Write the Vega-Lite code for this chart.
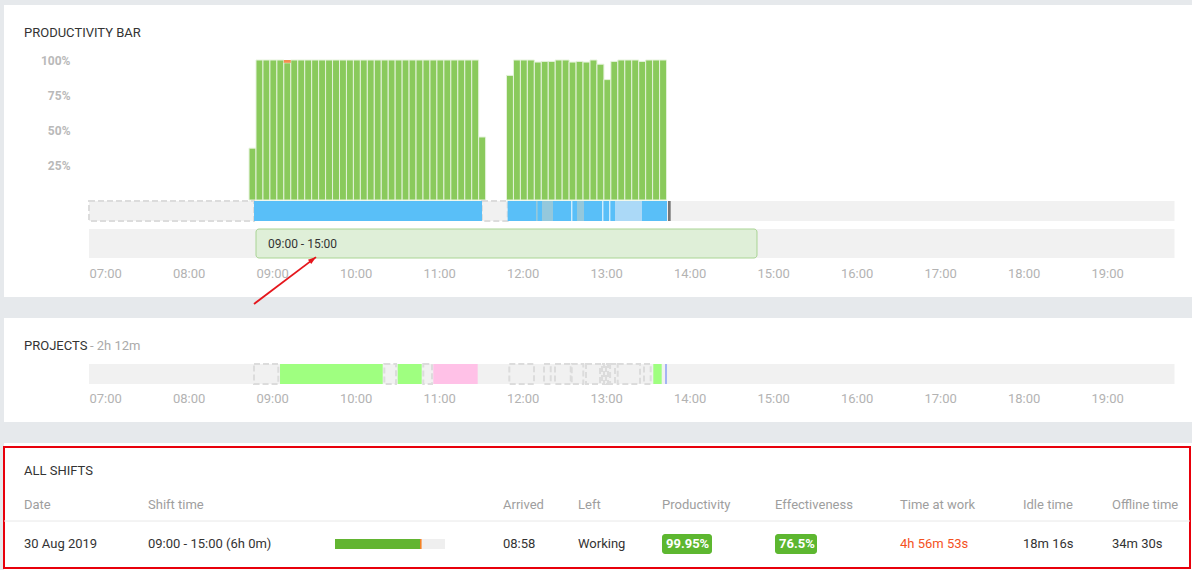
{
  "$schema": "https://vega.github.io/schema/vega-lite/v6.json",
  "background": "#ffffff",
  "padding": 0,
  "autosize": {"type": "pad"},
  "config": {
    "font": "Roboto",
    "view": {"stroke": null},
    "text": {"font": "Roboto"},
    "axis": {"labelFont": "Roboto"}
  },
  "datasets": {
    "lanebg": [{"from": "2019-08-30T07:00:00", "to": "2019-08-30T20:00:00"}],
    "bars": [
      {"start": "2019-08-30T08:55", "end": "2019-08-30T09:00", "productive": 37},
      {"start": "2019-08-30T09:00", "end": "2019-08-30T09:05", "productive": 100},
      {"start": "2019-08-30T09:05", "end": "2019-08-30T09:10", "productive": 100},
      {"start": "2019-08-30T09:10", "end": "2019-08-30T09:15", "productive": 100},
      {"start": "2019-08-30T09:15", "end": "2019-08-30T09:20", "productive": 100},
      {"start": "2019-08-30T09:20", "end": "2019-08-30T09:25", "productive": 98},
      {"start": "2019-08-30T09:25", "end": "2019-08-30T09:30", "productive": 100},
      {"start": "2019-08-30T09:30", "end": "2019-08-30T09:35", "productive": 100},
      {"start": "2019-08-30T09:35", "end": "2019-08-30T09:40", "productive": 100},
      {"start": "2019-08-30T09:40", "end": "2019-08-30T09:45", "productive": 100},
      {"start": "2019-08-30T09:45", "end": "2019-08-30T09:50", "productive": 100},
      {"start": "2019-08-30T09:50", "end": "2019-08-30T09:55", "productive": 100},
      {"start": "2019-08-30T09:55", "end": "2019-08-30T10:00", "productive": 100},
      {"start": "2019-08-30T10:00", "end": "2019-08-30T10:05", "productive": 100},
      {"start": "2019-08-30T10:05", "end": "2019-08-30T10:10", "productive": 100},
      {"start": "2019-08-30T10:10", "end": "2019-08-30T10:15", "productive": 100},
      {"start": "2019-08-30T10:15", "end": "2019-08-30T10:20", "productive": 100},
      {"start": "2019-08-30T10:20", "end": "2019-08-30T10:25", "productive": 100},
      {"start": "2019-08-30T10:25", "end": "2019-08-30T10:30", "productive": 100},
      {"start": "2019-08-30T10:30", "end": "2019-08-30T10:35", "productive": 100},
      {"start": "2019-08-30T10:35", "end": "2019-08-30T10:40", "productive": 100},
      {"start": "2019-08-30T10:40", "end": "2019-08-30T10:45", "productive": 100},
      {"start": "2019-08-30T10:45", "end": "2019-08-30T10:50", "productive": 100},
      {"start": "2019-08-30T10:50", "end": "2019-08-30T10:55", "productive": 100},
      {"start": "2019-08-30T10:55", "end": "2019-08-30T11:00", "productive": 100},
      {"start": "2019-08-30T11:00", "end": "2019-08-30T11:05", "productive": 100},
      {"start": "2019-08-30T11:05", "end": "2019-08-30T11:10", "productive": 100},
      {"start": "2019-08-30T11:10", "end": "2019-08-30T11:15", "productive": 100},
      {"start": "2019-08-30T11:15", "end": "2019-08-30T11:20", "productive": 100},
      {"start": "2019-08-30T11:20", "end": "2019-08-30T11:25", "productive": 100},
      {"start": "2019-08-30T11:25", "end": "2019-08-30T11:30", "productive": 100},
      {"start": "2019-08-30T11:30", "end": "2019-08-30T11:35", "productive": 100},
      {"start": "2019-08-30T11:35", "end": "2019-08-30T11:40", "productive": 100},
      {"start": "2019-08-30T11:40", "end": "2019-08-30T11:45", "productive": 45},
      {"start": "2019-08-30T12:00", "end": "2019-08-30T12:05", "productive": 89},
      {"start": "2019-08-30T12:05", "end": "2019-08-30T12:10", "productive": 100},
      {"start": "2019-08-30T12:10", "end": "2019-08-30T12:15", "productive": 100},
      {"start": "2019-08-30T12:15", "end": "2019-08-30T12:20", "productive": 100},
      {"start": "2019-08-30T12:20", "end": "2019-08-30T12:25", "productive": 98.5},
      {"start": "2019-08-30T12:25", "end": "2019-08-30T12:30", "productive": 99},
      {"start": "2019-08-30T12:30", "end": "2019-08-30T12:35", "productive": 99},
      {"start": "2019-08-30T12:35", "end": "2019-08-30T12:40", "productive": 100},
      {"start": "2019-08-30T12:40", "end": "2019-08-30T12:45", "productive": 100},
      {"start": "2019-08-30T12:45", "end": "2019-08-30T12:50", "productive": 98.5},
      {"start": "2019-08-30T12:50", "end": "2019-08-30T12:55", "productive": 99},
      {"start": "2019-08-30T12:55", "end": "2019-08-30T13:00", "productive": 98.5},
      {"start": "2019-08-30T13:00", "end": "2019-08-30T13:05", "productive": 100},
      {"start": "2019-08-30T13:05", "end": "2019-08-30T13:10", "productive": 97},
      {"start": "2019-08-30T13:10", "end": "2019-08-30T13:15", "productive": 86},
      {"start": "2019-08-30T13:15", "end": "2019-08-30T13:20", "productive": 99},
      {"start": "2019-08-30T13:20", "end": "2019-08-30T13:25", "productive": 100},
      {"start": "2019-08-30T13:25", "end": "2019-08-30T13:30", "productive": 100},
      {"start": "2019-08-30T13:30", "end": "2019-08-30T13:35", "productive": 100},
      {"start": "2019-08-30T13:35", "end": "2019-08-30T13:40", "productive": 99},
      {"start": "2019-08-30T13:40", "end": "2019-08-30T13:45", "productive": 100},
      {"start": "2019-08-30T13:45", "end": "2019-08-30T13:50", "productive": 100},
      {"start": "2019-08-30T13:50", "end": "2019-08-30T13:55", "productive": 100}
    ],
    "unproductive": [
      {"start": "2019-08-30T09:20", "end": "2019-08-30T09:25", "lo": 98, "hi": 100}
    ],
    "activity": [
      {"from": "2019-08-30T07:00:00", "to": "2019-08-30T08:58:34", "state": "offline"},
      {"from": "2019-08-30T08:58:34", "to": "2019-08-30T11:42:24", "state": "active"},
      {"from": "2019-08-30T11:42:24", "to": "2019-08-30T12:00:50", "state": "offline"},
      {"from": "2019-08-30T12:00:50", "to": "2019-08-30T13:55:20", "state": "active"},
      {"from": "2019-08-30T12:21:12", "to": "2019-08-30T12:22:25", "state": "idle"},
      {"from": "2019-08-30T12:25:31", "to": "2019-08-30T12:33:25", "state": "idle"},
      {"from": "2019-08-30T12:46:34", "to": "2019-08-30T12:47:17", "state": "break"},
      {"from": "2019-08-30T12:50:40", "to": "2019-08-30T12:55:41", "state": "idle"},
      {"from": "2019-08-30T13:08:50", "to": "2019-08-30T13:09:34", "state": "break"},
      {"from": "2019-08-30T13:13:52", "to": "2019-08-30T13:14:35", "state": "break"},
      {"from": "2019-08-30T13:17:58", "to": "2019-08-30T13:37:22", "state": "away"},
      {"from": "2019-08-30T13:56:03", "to": "2019-08-30T13:57:59", "state": "now"}
    ],
    "shift": [{"from": "2019-08-30T09:00:00", "to": "2019-08-30T15:00:00", "label": "09:00 - 15:00"}],
    "arrow": [
      {"t": "2019-08-30T08:58:34", "v": 0.667, "part": "tail"},
      {"t": "2019-08-30T09:43:07", "v": 2.9, "part": "tip"}
    ],
    "projects": [
      {"from": "2019-08-30T08:58:34", "to": "2019-08-30T09:16:01", "project": "none"},
      {"from": "2019-08-30T09:17:15", "to": "2019-08-30T10:31:03", "project": "Project A"},
      {"from": "2019-08-30T10:32:12", "to": "2019-08-30T10:40:36", "project": "none"},
      {"from": "2019-08-30T10:41:49", "to": "2019-08-30T10:59:04", "project": "Project A"},
      {"from": "2019-08-30T11:00:13", "to": "2019-08-30T11:06:28", "project": "none"},
      {"from": "2019-08-30T11:07:24", "to": "2019-08-30T11:39:18", "project": "Project B"},
      {"from": "2019-08-30T12:02:01", "to": "2019-08-30T12:19:46", "project": "none"},
      {"from": "2019-08-30T12:26:57", "to": "2019-08-30T12:31:46", "project": "none"},
      {"from": "2019-08-30T12:34:51", "to": "2019-08-30T12:46:08", "project": "none"},
      {"from": "2019-08-30T12:46:51", "to": "2019-08-30T12:55:11", "project": "none"},
      {"from": "2019-08-30T12:57:08", "to": "2019-08-30T13:07:11", "project": "none"},
      {"from": "2019-08-30T13:08:37", "to": "2019-08-30T13:10:04", "project": "none"},
      {"from": "2019-08-30T13:11:30", "to": "2019-08-30T13:12:56", "project": "none"},
      {"from": "2019-08-30T13:14:25", "to": "2019-08-30T13:17:58", "project": "none"},
      {"from": "2019-08-30T13:19:54", "to": "2019-08-30T13:35:56", "project": "none"},
      {"from": "2019-08-30T13:38:48", "to": "2019-08-30T13:43:37", "project": "none"},
      {"from": "2019-08-30T13:45:29", "to": "2019-08-30T13:51:31", "project": "Project A"},
      {"from": "2019-08-30T13:53:54", "to": "2019-08-30T13:55:20", "project": "now"}
    ],
    "header1": [{"slot": 0, "text": "PRODUCTIVITY BAR", "kind": "title"}],
    "header2": [
      {"slot": 0, "text": "PROJECTS", "kind": "title"},
      {"slot": 1, "text": "- 2h 12m", "kind": "total"}
    ],
    "table": [
      {"col": 0, "row": 0, "text": "ALL SHIFTS"},
      {"col": 0, "row": 1, "text": "Date"},
      {"col": 1, "row": 1, "text": "Shift time"},
      {"col": 3, "row": 1, "text": "Arrived"},
      {"col": 4, "row": 1, "text": "Left"},
      {"col": 5, "row": 1, "text": "Productivity"},
      {"col": 6, "row": 1, "text": "Effectiveness"},
      {"col": 7, "row": 1, "text": "Time at work"},
      {"col": 8, "row": 1, "text": "Idle time"},
      {"col": 9, "row": 1, "text": "Offline time"},
      {"col": 0, "row": 3, "text": "30 Aug 2019"},
      {"col": 1, "row": 3, "text": "09:00 - 15:00 (6h 0m)"},
      {"col": 3, "row": 3, "text": "08:58"},
      {"col": 4, "row": 3, "text": "Working"},
      {"col": 5, "row": 3, "text": "99.95%"},
      {"col": 6, "row": 3, "text": "76.5%"},
      {"col": 7, "row": 3, "text": "4h 56m 53s"},
      {"col": 8, "row": 3, "text": "18m 16s"},
      {"col": 9, "row": 3, "text": "34m 30s"}
    ],
    "progress": [
      {"from": 0, "to": 1, "part": "shift"},
      {"from": 0, "to": 0.773, "part": "work"},
      {"from": 0.773, "to": 0.787, "part": "over"}
    ]
  },
  "spacing": 0,
  "bounds": "flush",
  "resolve": {"scale": {"x": "independent", "y": "independent", "color": "independent"}},
  "hconcat": [
    {"width": 4, "height": 570, "data": {"values": []}, "mark": "rect", "encoding": {}, "view": {"fill": "#e6e9ec", "stroke": null}},
    {
      "spacing": 0,
      "bounds": "flush",
      "resolve": {"scale": {"x": "independent", "y": "independent", "color": "independent"}},
      "vconcat": [
        {"width": 1188, "height": 5, "data": {"values": []}, "mark": "rect", "encoding": {}, "view": {"fill": "#e6e9ec", "stroke": null}},
        {
          "width": 1188, "height": 55,
          "data": {"name": "header1"},
          "mark": {"type": "text", "align": "left", "baseline": "middle", "fontSize": 13, "color": "#333333"},
          "encoding": {
            "x": {"field": "slot", "type": "quantitative", "scale": {"domain": [0, 1], "range": [20, 86], "zero": false, "nice": false}, "axis": null},
            "text": {"field": "text"}
          }
        },
        {
          "width": 1188, "height": 140,
          "layer": [
            {
              "data": {"name": "bars"},
              "mark": {"type": "rect", "color": "#8aca5c", "stroke": "#e4f2da", "strokeWidth": 1},
              "encoding": {
                "x": {"field": "start", "type": "temporal", "title": null,
                      "scale": {"domain": [{"year": 2019, "month": 8, "date": 30, "hours": 5, "minutes": 58, "seconds": 55}, {"year": 2019, "month": 8, "date": 30, "hours": 20, "minutes": 12, "seconds": 35}]},
                      "axis": null},
                "x2": {"field": "end"},
                "y": {"field": "productive", "type": "quantitative", "title": null,
                      "scale": {"domain": [0, 100], "nice": false},
                      "axis": {"values": [25, 50, 75, 100], "labelExpr": "datum.value + '%'", "domain": false, "ticks": false, "tickSize": 0, "grid": false, "labelPadding": 0, "offset": -66, "labelFontWeight": "bold", "labelColor": "#b9b9b9", "labelFontSize": 12, "title": null}},
                "y2": {"datum": 0}
              }
            },
            {
              "data": {"name": "unproductive"},
              "mark": {"type": "rect", "color": "#f68d50"},
              "encoding": {
                "x": {"field": "start", "type": "temporal", "title": null},
                "x2": {"field": "end"},
                "y": {"field": "lo", "type": "quantitative", "title": null},
                "y2": {"field": "hi"}
              }
            }
          ]
        },
        {"width": 1188, "height": 1, "data": {"values": []}, "mark": "rect", "encoding": {}},
        {
          "width": 1188, "height": 20,
          "layer": [
            {
              "data": {"name": "lanebg"},
              "mark": {"type": "rect", "color": "#f1f1f1"},
              "encoding": {
                "x": {"field": "from", "type": "temporal", "title": null,
                      "scale": {"domain": [{"year": 2019, "month": 8, "date": 30, "hours": 5, "minutes": 58, "seconds": 55}, {"year": 2019, "month": 8, "date": 30, "hours": 20, "minutes": 12, "seconds": 35}]},
                      "axis": null},
                "x2": {"field": "to"}
              }
            },
            {
              "data": {"name": "activity"},
              "transform": [{"filter": "datum.state === 'offline'"}],
              "mark": {"type": "rect", "fill": "#f1f1f1", "stroke": "#dcdcdc", "strokeWidth": 2, "strokeDash": [6, 3]},
              "encoding": {
                "x": {"field": "from", "type": "temporal", "title": null},
                "x2": {"field": "to"}
              }
            },
            {
              "data": {"name": "activity"},
              "transform": [{"filter": "datum.state !== 'offline'"}],
              "mark": {"type": "rect"},
              "encoding": {
                "x": {"field": "from", "type": "temporal", "title": null},
                "x2": {"field": "to"},
                "color": {"field": "state", "type": "nominal", "legend": null,
                          "scale": {"domain": ["active", "idle", "break", "away", "now"], "range": ["#59bff8", "#94c8dc", "#ffffff", "#abd9f7", "#777777"]}}
              }
            }
          ]
        },
        {"width": 1188, "height": 8, "data": {"values": []}, "mark": "rect", "encoding": {}},
        {
          "width": 1188, "height": 29,
          "layer": [
            {
              "data": {"name": "lanebg"},
              "mark": {"type": "rect", "color": "#f1f1f1"},
              "encoding": {
                "x": {"field": "from", "type": "temporal", "title": null,
                      "scale": {"domain": [{"year": 2019, "month": 8, "date": 30, "hours": 5, "minutes": 58, "seconds": 55}, {"year": 2019, "month": 8, "date": 30, "hours": 20, "minutes": 12, "seconds": 35}]},
                      "axis": {"values": [
                        {"year": 2019, "month": 8, "date": 30, "hours": 7}, {"year": 2019, "month": 8, "date": 30, "hours": 8},
                        {"year": 2019, "month": 8, "date": 30, "hours": 9}, {"year": 2019, "month": 8, "date": 30, "hours": 10},
                        {"year": 2019, "month": 8, "date": 30, "hours": 11}, {"year": 2019, "month": 8, "date": 30, "hours": 12},
                        {"year": 2019, "month": 8, "date": 30, "hours": 13}, {"year": 2019, "month": 8, "date": 30, "hours": 14},
                        {"year": 2019, "month": 8, "date": 30, "hours": 15}, {"year": 2019, "month": 8, "date": 30, "hours": 16},
                        {"year": 2019, "month": 8, "date": 30, "hours": 17}, {"year": 2019, "month": 8, "date": 30, "hours": 18},
                        {"year": 2019, "month": 8, "date": 30, "hours": 19}],
                        "format": "%H:%M", "labelAlign": "left", "labelColor": "#b3b3b3", "labelFontSize": 13, "labelPadding": 9,
                        "domain": false, "ticks": false, "tickSize": 0, "grid": false, "title": null, "labelFlush": false, "labelOverlap": false}},
                "x2": {"field": "to"}
              }
            },
            {
              "data": {"name": "shift"},
              "mark": {"type": "rect", "fill": "#dfefd8", "stroke": "#a9d494", "strokeWidth": 1, "cornerRadius": 3},
              "encoding": {
                "x": {"field": "from", "type": "temporal", "title": null},
                "x2": {"field": "to"}
              }
            },
            {
              "data": {"name": "shift"},
              "mark": {"type": "text", "align": "left", "baseline": "middle", "dx": 12, "fontSize": 12, "color": "#333333"},
              "encoding": {
                "x": {"field": "from", "type": "temporal", "title": null},
                "text": {"field": "label"}
              }
            }
          ]
        },
        {"width": 1188, "height": 39, "data": {"values": []}, "mark": "rect", "encoding": {}},
        {
          "width": 1188, "height": 21,
          "view": {"fill": "#e6e9ec", "stroke": null},
          "data": {"name": "arrow"},
          "layer": [
            {
              "mark": {"type": "line", "color": "#e5161c", "strokeWidth": 1.8, "clip": false},
              "encoding": {
                "x": {"field": "t", "type": "temporal", "title": null, "axis": null,
                      "scale": {"domain": [{"year": 2019, "month": 8, "date": 30, "hours": 5, "minutes": 58, "seconds": 55}, {"year": 2019, "month": 8, "date": 30, "hours": 20, "minutes": 12, "seconds": 35}]}},
                "y": {"field": "v", "type": "quantitative", "title": null, "axis": null, "scale": {"domain": [0, 1], "nice": false, "zero": false}}
              }
            },
            {
              "transform": [{"filter": "datum.part === 'tip'"}],
              "mark": {"type": "point", "shape": "M0,0L-0.55,1.6L0.55,1.6Z", "filled": true, "color": "#e5161c", "opacity": 1, "size": 100, "angle": 53, "clip": false},
              "encoding": {
                "x": {"field": "t", "type": "temporal", "title": null},
                "y": {"field": "v", "type": "quantitative", "title": null}
              }
            }
          ]
        },
        {
          "width": 1188, "height": 46,
          "data": {"name": "header2"},
          "layer": [
            {
              "transform": [{"filter": "datum.kind === 'title'"}],
              "mark": {"type": "text", "align": "left", "baseline": "middle", "dy": 5, "fontSize": 13, "color": "#333333"},
              "encoding": {
                "x": {"field": "slot", "type": "quantitative", "scale": {"domain": [0, 1], "range": [20, 86], "zero": false, "nice": false}, "axis": null},
                "text": {"field": "text"}
              }
            },
            {
              "transform": [{"filter": "datum.kind === 'total'"}],
              "mark": {"type": "text", "align": "left", "baseline": "middle", "dy": 5, "fontSize": 13, "color": "#aaaaaa"},
              "encoding": {
                "x": {"field": "slot", "type": "quantitative"},
                "text": {"field": "text"}
              }
            }
          ]
        },
        {
          "width": 1188, "height": 20,
          "layer": [
            {
              "data": {"name": "lanebg"},
              "mark": {"type": "rect", "color": "#f1f1f1"},
              "encoding": {
                "x": {"field": "from", "type": "temporal", "title": null,
                      "scale": {"domain": [{"year": 2019, "month": 8, "date": 30, "hours": 5, "minutes": 58, "seconds": 55}, {"year": 2019, "month": 8, "date": 30, "hours": 20, "minutes": 12, "seconds": 35}]},
                      "axis": {"values": [
                        {"year": 2019, "month": 8, "date": 30, "hours": 7}, {"year": 2019, "month": 8, "date": 30, "hours": 8},
                        {"year": 2019, "month": 8, "date": 30, "hours": 9}, {"year": 2019, "month": 8, "date": 30, "hours": 10},
                        {"year": 2019, "month": 8, "date": 30, "hours": 11}, {"year": 2019, "month": 8, "date": 30, "hours": 12},
                        {"year": 2019, "month": 8, "date": 30, "hours": 13}, {"year": 2019, "month": 8, "date": 30, "hours": 14},
                        {"year": 2019, "month": 8, "date": 30, "hours": 15}, {"year": 2019, "month": 8, "date": 30, "hours": 16},
                        {"year": 2019, "month": 8, "date": 30, "hours": 17}, {"year": 2019, "month": 8, "date": 30, "hours": 18},
                        {"year": 2019, "month": 8, "date": 30, "hours": 19}],
                        "format": "%H:%M", "labelAlign": "left", "labelColor": "#b3b3b3", "labelFontSize": 13, "labelPadding": 8,
                        "domain": false, "ticks": false, "tickSize": 0, "grid": false, "title": null, "labelFlush": false, "labelOverlap": false}},
                "x2": {"field": "to"}
              }
            },
            {
              "data": {"name": "projects"},
              "transform": [{"filter": "datum.project === 'none'"}],
              "mark": {"type": "rect", "fill": "#f1f1f1", "stroke": "#dcdcdc", "strokeWidth": 2, "strokeDash": [6, 3]},
              "encoding": {
                "x": {"field": "from", "type": "temporal", "title": null},
                "x2": {"field": "to"}
              }
            },
            {
              "data": {"name": "projects"},
              "transform": [{"filter": "datum.project !== 'none'"}],
              "mark": {"type": "rect"},
              "encoding": {
                "x": {"field": "from", "type": "temporal", "title": null},
                "x2": {"field": "to"},
                "color": {"field": "project", "type": "nominal", "legend": null,
                          "scale": {"domain": ["Project A", "Project B", "now"], "range": ["#9fff80", "#ffc1e7", "#a4b4f4"]}}
              }
            }
          ]
        },
        {"width": 1188, "height": 38, "data": {"values": []}, "mark": "rect", "encoding": {}},
        {"width": 1188, "height": 21, "data": {"values": []}, "mark": "rect", "encoding": {}, "view": {"fill": "#e6e9ec", "stroke": null}},
        {"width": 1188, "height": 4, "data": {"values": []}, "mark": "rect", "encoding": {}},
        {
          "width": 1186, "height": 121,
          "view": {"stroke": "#e8000b", "strokeWidth": 2},
          "resolve": {"scale": {"x": "independent"}},
          "layer": [
            {
              "data": {"values": [{"row": 2}]},
              "mark": {"type": "rule", "color": "#e8e8e8", "strokeWidth": 1},
              "encoding": {
                "y": {"field": "row", "type": "quantitative", "title": null,
                      "scale": {"domain": [0, 1, 2, 3], "range": [24, 58, 74, 97], "zero": false, "nice": false}, "axis": null}
              }
            },
            {
              "data": {"name": "table"},
              "transform": [{"filter": "datum.row === 0"}],
              "mark": {"type": "text", "align": "left", "baseline": "middle", "fontSize": 13, "color": "#333333"},
              "encoding": {
                "x": {"field": "col", "type": "quantitative", "axis": null, "scale": {"domain": [0, 1, 2, 3, 4, 5, 6, 7, 8, 9], "range": [20, 144, 331, 499, 574, 658, 771, 896, 1019, 1108], "zero": false, "nice": false}},
                "y": {"field": "row", "type": "quantitative", "title": null},
                "text": {"field": "text"}
              }
            },
            {
              "data": {"name": "table"},
              "transform": [{"filter": "datum.row === 1"}],
              "mark": {"type": "text", "align": "left", "baseline": "middle", "fontSize": 13, "color": "#9e9e9e"},
              "encoding": {
                "x": {"field": "col", "type": "quantitative", "axis": null, "scale": {"domain": [0, 1, 2, 3, 4, 5, 6, 7, 8, 9], "range": [20, 144, 331, 499, 574, 658, 771, 896, 1019, 1108], "zero": false, "nice": false}},
                "y": {"field": "row", "type": "quantitative", "title": null},
                "text": {"field": "text"}
              }
            },
            {
              "data": {"name": "progress"},
              "mark": {"type": "rect", "yOffset": -5, "y2Offset": 5},
              "encoding": {
                "x": {"field": "from", "type": "quantitative", "axis": null, "scale": {"domain": [0, 1], "range": [331, 441], "zero": false, "nice": false}},
                "x2": {"field": "to"},
                "y": {"datum": 3, "type": "quantitative"},
                "y2": {"datum": 3},
                "color": {"field": "part", "type": "nominal", "legend": null,
                          "scale": {"domain": ["shift", "work", "over"], "range": ["#efefef", "#62b531", "#f47f20"]}}
              }
            },
            {
              "data": {"name": "table"},
              "transform": [{"filter": "datum.row === 3 && datum.col === 5"}],
              "mark": {"type": "rect", "color": "#5db730", "cornerRadius": 3, "x2Offset": 50, "yOffset": -10, "y2Offset": 10},
              "encoding": {
                "x": {"field": "col", "type": "quantitative", "axis": null, "scale": {"domain": [0, 1, 2, 3, 4, 5, 6, 7, 8, 9], "range": [20, 144, 331, 499, 574, 658, 771, 896, 1019, 1108], "zero": false, "nice": false}},
                "x2": {"field": "col"},
                "y": {"field": "row", "type": "quantitative", "title": null},
                "y2": {"field": "row"}
              }
            },
            {
              "data": {"name": "table"},
              "transform": [{"filter": "datum.row === 3 && datum.col === 6"}],
              "mark": {"type": "rect", "color": "#5db730", "cornerRadius": 3, "x2Offset": 42, "yOffset": -10, "y2Offset": 10},
              "encoding": {
                "x": {"field": "col", "type": "quantitative", "axis": null, "scale": {"domain": [0, 1, 2, 3, 4, 5, 6, 7, 8, 9], "range": [20, 144, 331, 499, 574, 658, 771, 896, 1019, 1108], "zero": false, "nice": false}},
                "x2": {"field": "col"},
                "y": {"field": "row", "type": "quantitative", "title": null},
                "y2": {"field": "row"}
              }
            },
            {
              "data": {"name": "table"},
              "transform": [{"filter": "datum.row === 3 && (datum.col === 5 || datum.col === 6)"}],
              "mark": {"type": "text", "align": "left", "baseline": "middle", "fontSize": 13, "fontWeight": "bold", "dx": 4, "color": "#ffffff"},
              "encoding": {
                "x": {"field": "col", "type": "quantitative", "axis": null, "scale": {"domain": [0, 1, 2, 3, 4, 5, 6, 7, 8, 9], "range": [20, 144, 331, 499, 574, 658, 771, 896, 1019, 1108], "zero": false, "nice": false}},
                "y": {"field": "row", "type": "quantitative", "title": null},
                "text": {"field": "text"}
              }
            },
            {
              "data": {"name": "table"},
              "transform": [{"filter": "datum.row === 3 && datum.col !== 5 && datum.col !== 6"}],
              "mark": {"type": "text", "align": "left", "baseline": "middle", "fontSize": 13},
              "encoding": {
                "x": {"field": "col", "type": "quantitative", "axis": null, "scale": {"domain": [0, 1, 2, 3, 4, 5, 6, 7, 8, 9], "range": [20, 144, 331, 499, 574, 658, 771, 896, 1019, 1108], "zero": false, "nice": false}},
                "y": {"field": "row", "type": "quantitative", "title": null},
                "text": {"field": "text"},
                "color": {"condition": {"test": "datum.col === 7", "value": "#f4511e"}, "value": "#333333"}
              }
            }
          ]
        },
        {"width": 1188, "height": 2, "data": {"values": []}, "mark": "rect", "encoding": {}}
      ]
    }
  ]
}
